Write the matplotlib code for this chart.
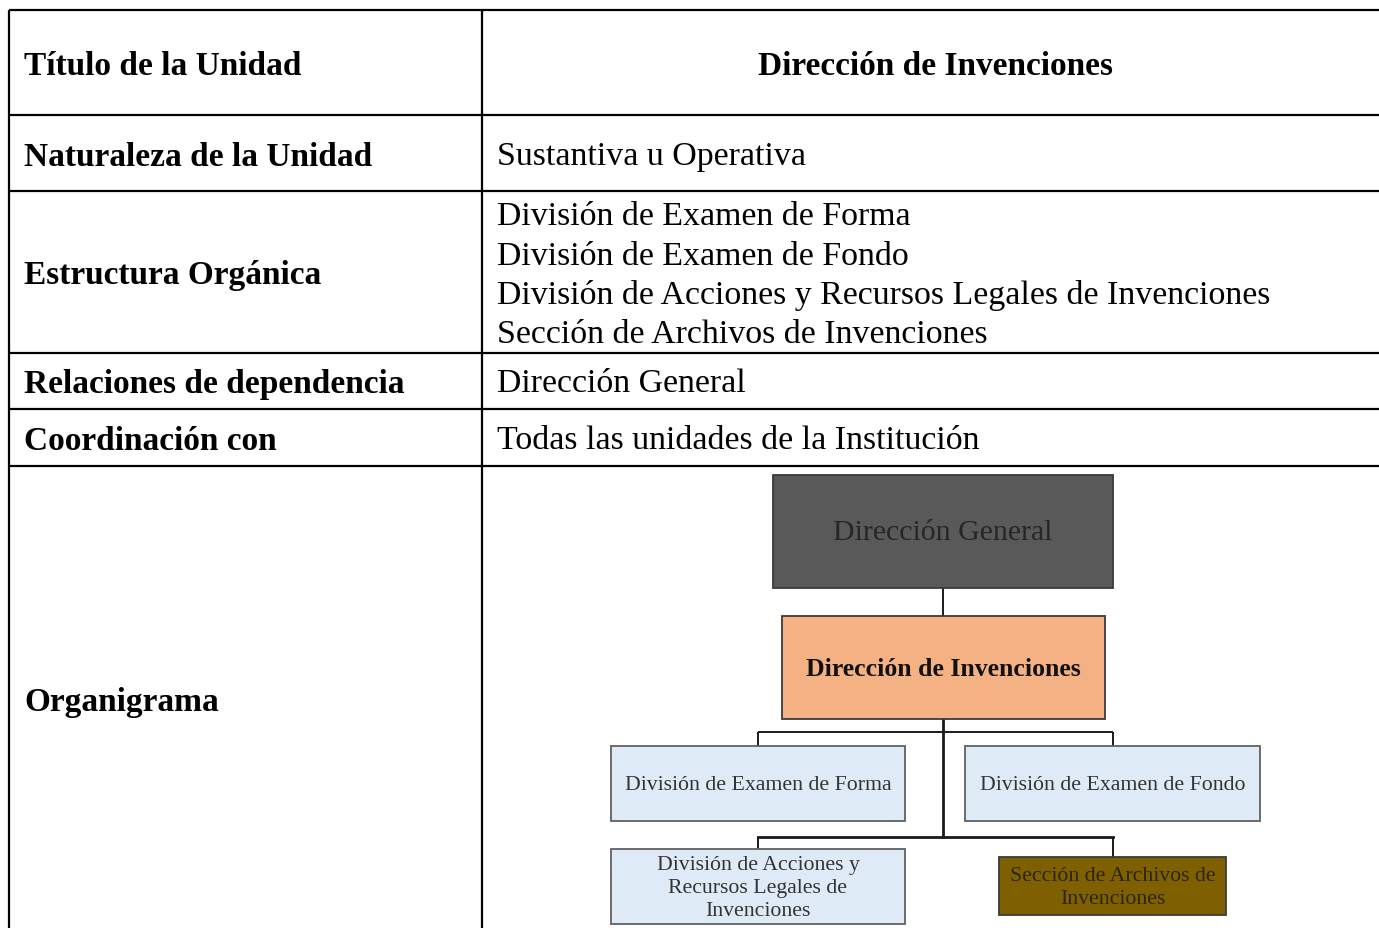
import matplotlib
matplotlib.use("Agg")
import matplotlib.pyplot as plt
from matplotlib.patches import Rectangle

plt.rcParams['font.family'] = ['Liberation Serif', 'DejaVu Serif']

# table content
row_labels = ["Título de la Unidad", "Naturaleza de la Unidad", "Estructura Orgánica",
              "Relaciones de dependencia", "Coordinación con", "Organigrama"]
unit_title = "Dirección de Invenciones"
nature = "Sustantiva u Operativa"
structure = ["División de Examen de Forma", "División de Examen de Fondo",
             "División de Acciones y Recursos Legales de Invenciones",
             "Sección de Archivos de Invenciones"]
dependency = "Dirección General"
coordination = "Todas las unidades de la Institución"

# org chart boxes: label, fill, text colour, bold
org_top = ("Dirección General", "#595959", "#262626", False)
org_mid = ("Dirección de Invenciones", "#F4B183", "#111111", True)
org_children = [("División de Examen de Forma", "#DEEBF7", "#333333", False),
                ("División de Examen de Fondo", "#DEEBF7", "#333333", False),
                ("División de Acciones y\nRecursos Legales de\nInvenciones", "#DEEBF7", "#333333", False),
                ("Sección de Archivos de\nInvenciones", "#7F6000", "#2a2410", False)]

W, H = 1379, 929
fig = plt.figure(figsize=(W / 100, H / 100), dpi=100)
ax = fig.add_axes([0, 0, 1, 1])
ax.set_xlim(0, W); ax.set_ylim(H, 0)
ax.axis("off")

# grid
row_y = [11, 116, 192, 354, 410, 467]
col_x = [9, 482]
lw = 1.6
for y in row_y:
    ax.plot([col_x[0], W], [y, y], color="black", lw=lw, solid_capstyle="butt")
for x in col_x:
    ax.plot([x, x], [row_y[0], H], color="black", lw=lw, solid_capstyle="butt")

label_y = [66, 157, 275, 384, 441, 702]
fs_b = 24
fs = 24.4
for lab, y in zip(row_labels, label_y):
    ax.text(24, y, lab, fontsize=fs_b, fontweight="bold", va="center", ha="left")

ax.text(935, 66, unit_title, fontsize=fs_b, fontweight="bold", va="center", ha="center")
ax.text(497, 157, nature, fontsize=fs, va="center")
for i, s in enumerate(structure):
    ax.text(497, 217 + i * 39.3, s, fontsize=fs, va="center")
ax.text(497, 384, dependency, fontsize=fs, va="center")
ax.text(497, 441, coordination, fontsize=fs, va="center")

# organigrama
def box(x0, y0, x1, y1, item, fsz, edge="#3a3a3a"):
    label, fill, tc, bold = item
    ax.add_patch(Rectangle((x0, y0), x1 - x0, y1 - y0, facecolor=fill,
                           edgecolor=edge, lw=1.3, zorder=3))
    ax.text((x0 + x1) / 2, (y0 + y1) / 2 + 1, label, fontsize=fsz, color=tc,
            fontweight="bold" if bold else "normal", ha="center", va="center",
            linespacing=1.3, zorder=4)

cl = dict(color="#1a1a1a", lw=1.4, zorder=2, solid_capstyle="butt")
ax.plot([943, 943], [589, 617], **cl)
ax.plot([943, 943], [720, 838], lw=2.0, color="#1a1a1a", zorder=2)
ax.plot([758, 1113], [733, 733], **cl)
ax.plot([758, 758], [733, 747], **cl)
ax.plot([1113, 1113], [733, 747], **cl)
ax.plot([758, 1113], [838, 838], lw=2.0, color="#1a1a1a", zorder=2)
ax.plot([758, 758], [838, 850], **cl)
ax.plot([1113, 1113], [838, 858], **cl)

box(773, 476, 1113, 589, org_top, 21.5)
box(782, 617, 1105, 720, org_mid, 18.5)
box(611, 747, 905, 822, org_children[0], 15.7, edge="#606060")
box(965, 747, 1260, 822, org_children[1], 15.7, edge="#606060")
box(611, 850, 905, 925, org_children[2], 15.7, edge="#606060")
box(999, 858, 1226, 916, org_children[3], 15.7)

fig.savefig("out.png", dpi=100)
